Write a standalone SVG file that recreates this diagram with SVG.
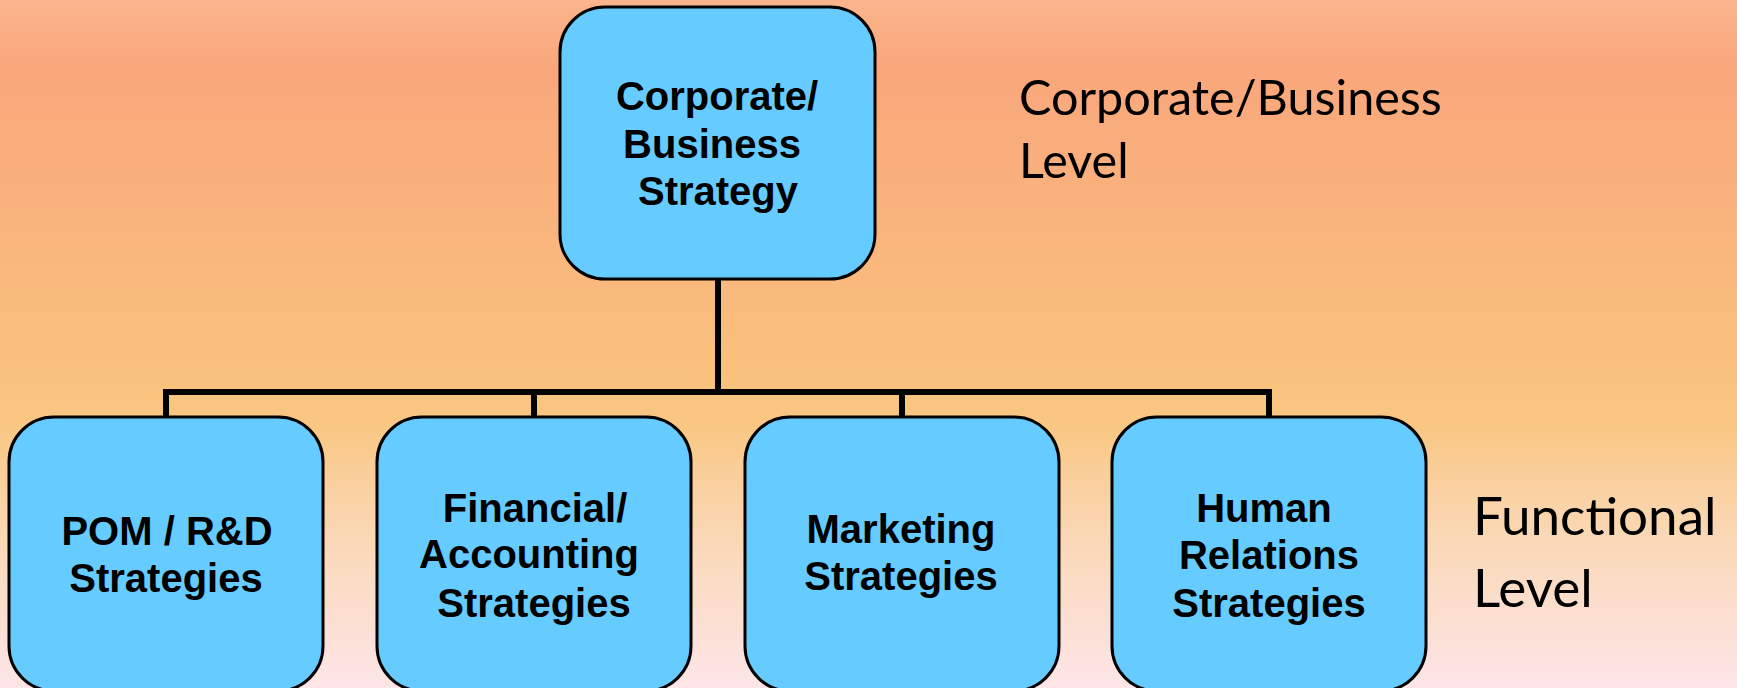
<svg xmlns="http://www.w3.org/2000/svg" width="1737" height="688" viewBox="0 0 1737 688">
<defs>
<linearGradient id="bg" x1="0" y1="0" x2="0" y2="1">
<stop offset="0" stop-color="#FBB48C"/>
<stop offset="0.1" stop-color="#F9A77B"/>
<stop offset="0.3" stop-color="#F9B27D"/>
<stop offset="0.55" stop-color="#F9C27C"/>
<stop offset="0.62" stop-color="#F9C784"/>
<stop offset="0.78" stop-color="#FAD8B6"/>
<stop offset="1" stop-color="#FDE5E8"/>
</linearGradient>
</defs>
<style>
.box{fill:#66CCFF;stroke:#000;stroke-width:3}
.lbl{font-family:"Liberation Sans",Arial,sans-serif;font-weight:bold;font-size:40px;fill:#000;text-anchor:middle}
.side{font-family:Lato,"Open Sans",sans-serif;fill:#000}
.conn{fill:none;stroke:#000;stroke-width:6;stroke-linejoin:miter}
</style>
<rect x="0" y="0" width="1737" height="688" fill="url(#bg)"/>
<g id="connectors">
<path class="conn" d="M718,279 V392"/>
<path class="conn" d="M166,417 V392 H1269 V417"/>
<path class="conn" d="M534,392 V417"/>
<path class="conn" d="M902,392 V417"/>
</g>
<g id="corporate">
<rect class="box" x="560" y="7" width="315" height="272" rx="45"/>
<text class="lbl"><tspan x="717" y="110">Corporate/</tspan><tspan x="712" y="158">Business</tspan><tspan x="718" y="205">Strategy</tspan></text>
</g>
<g id="pom">
<rect class="box" x="9" y="417" width="314" height="274" rx="45"/>
<text class="lbl"><tspan x="167" y="545">POM / R&amp;D</tspan><tspan x="166" y="592">Strategies</tspan></text>
</g>
<g id="financial">
<rect class="box" x="377" y="417" width="314" height="274" rx="45"/>
<text class="lbl"><tspan x="535" y="522">Financial/</tspan><tspan x="529" y="568">Accounting</tspan><tspan x="534" y="617">Strategies</tspan></text>
</g>
<g id="marketing">
<rect class="box" x="745" y="417" width="314" height="274" rx="45"/>
<text class="lbl"><tspan x="901" y="543">Marketing</tspan><tspan x="901" y="590">Strategies</tspan></text>
</g>
<g id="human">
<rect class="box" x="1112" y="417" width="314" height="274" rx="45"/>
<text class="lbl"><tspan x="1264" y="522">Human</tspan><tspan x="1269" y="569">Relations</tspan><tspan x="1269" y="617">Strategies</tspan></text>
</g>
<g id="level-corporate">
<text class="side" font-size="48.5"><tspan x="1019" y="115">Corporate/Business</tspan><tspan x="1019" y="178">Level</tspan></text>
</g>
<g id="level-functional">
<text class="side" font-size="53"><tspan x="1473" y="535">Functional</tspan><tspan x="1473" y="607">Level</tspan></text>
</g>
</svg>
